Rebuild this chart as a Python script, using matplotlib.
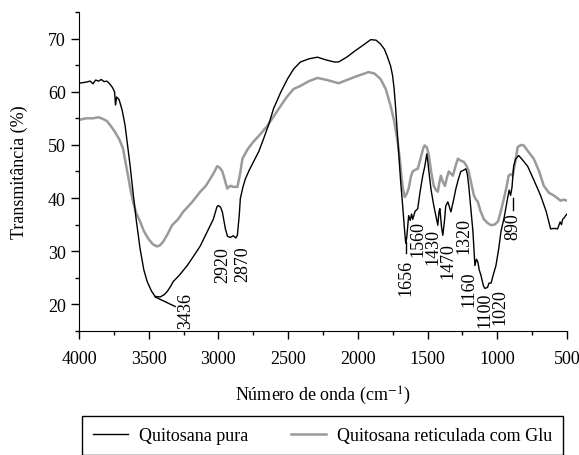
import matplotlib
matplotlib.use("Agg")
import matplotlib.pyplot as plt
from matplotlib.ticker import MultipleLocator

plt.rcParams['font.family'] = ['Liberation Serif', 'DejaVu Serif']
plt.rcParams['mathtext.fontset'] = 'stix'

# Quitosana pura (wavenumber cm-1, transmittance %)
pura_wn = [4000, 3950, 3920, 3900, 3880, 3860, 3840, 3820, 3800, 3780, 3760, 3745,
           3738, 3730, 3712, 3690, 3669, 3650, 3633, 3612, 3590, 3562, 3535, 3511,
           3480, 3454, 3418, 3390, 3368, 3345, 3324, 3280, 3224, 3180, 3130, 3080,
           3037, 3010, 3001, 2985, 2972, 2950, 2935, 2915, 2893, 2875, 2864, 2850,
           2843, 2825, 2807, 2780, 2749, 2710, 2677, 2640, 2605, 2555, 2505, 2460,
           2412, 2350, 2290, 2230, 2170, 2138, 2080, 2020, 1960, 1908, 1870, 1838,
           1810, 1787, 1765, 1751, 1740, 1729, 1718, 1707, 1693, 1679, 1667, 1657,
           1650, 1636, 1625, 1615, 1607, 1590, 1571, 1555, 1535, 1520, 1506, 1500,
           1491, 1475, 1456, 1440, 1427, 1418, 1412, 1400, 1391, 1380, 1370, 1355,
           1340, 1333, 1315, 1297, 1280, 1262, 1245, 1226, 1215, 1205, 1190, 1175,
           1161, 1150, 1140, 1130, 1118, 1100, 1089, 1070, 1060, 1045, 1030, 1010,
           990, 974, 950, 927, 915, 905, 895, 883, 870, 847, 820, 783, 740, 690,
           650, 618, 590, 568, 550, 540, 532, 520, 511, 500]
pura_t = [61.6, 61.8, 62.0, 61.5, 62.2, 62.0, 62.3, 61.9, 62.0, 61.5, 60.8, 60.0,
          57.5, 59.0, 58.5, 56.5, 53.6, 49.5, 46.0, 41.0, 36.0, 30.5, 26.5, 24.3,
          22.5, 21.5, 21.4, 21.8, 22.4, 23.3, 24.3, 25.5, 27.3, 29.0, 31.0, 33.7,
          36.0, 38.4, 38.6, 38.3, 37.4, 34.2, 32.8, 32.6, 32.9, 32.5, 33.0, 37.0,
          39.9, 42.0, 43.6, 45.2, 46.8, 48.8, 51.1, 53.8, 56.8, 59.8, 62.4, 64.3,
          65.6, 66.2, 66.5, 66.0, 65.6, 65.6, 66.5, 67.7, 68.8, 69.8, 69.7, 69.0,
          68.0, 66.5, 64.8, 63.0, 60.5, 56.8, 52.5, 48.0, 43.0, 38.6, 34.5, 31.5,
          32.5, 36.7, 35.8, 37.0, 36.0, 37.5, 38.0, 41.0, 44.2, 46.0, 48.3, 47.2,
          45.0, 41.5, 38.6, 36.5, 34.9, 37.5, 38.0, 34.5, 33.0, 35.5, 38.5, 39.3,
          38.0, 37.4, 39.5, 41.8, 43.5, 45.0, 45.2, 45.5, 44.5, 42.3, 38.0, 33.7,
          27.3, 28.5, 28.0, 26.5, 25.5, 23.5, 23.0, 23.2, 24.0, 24.0, 25.5, 27.3,
          30.5, 33.7, 36.5, 39.9, 41.5, 40.5, 42.0, 46.0, 47.3, 48.0, 47.2, 46.0,
          43.5, 40.5, 37.5, 34.2, 34.3, 34.2, 35.5, 35.0, 36.0, 36.3, 36.7, 37.0]

# Quitosana reticulada com Glu
glu_wn = [4000, 3950, 3900, 3860, 3830, 3800, 3770, 3741, 3710, 3684, 3665, 3648,
          3630, 3612, 3590, 3562, 3535, 3504, 3470, 3440, 3420, 3396, 3365, 3332,
          3290, 3253, 3190, 3130, 3090, 3059, 3030, 3009, 2990, 2972, 2955, 2937,
          2915, 2893, 2864, 2845, 2828, 2790, 2749, 2700, 2649, 2600, 2555, 2510,
          2462, 2412, 2350, 2290, 2220, 2138, 2080, 2000, 1922, 1880, 1838, 1800,
          1765, 1740, 1715, 1700, 1686, 1675, 1664, 1650, 1636, 1620, 1607, 1590,
          1571, 1550, 1530, 1521, 1505, 1491, 1475, 1456, 1440, 1427, 1415, 1405,
          1390, 1376, 1360, 1348, 1330, 1319, 1300, 1283, 1260, 1240, 1220, 1205,
          1185, 1168, 1155, 1140, 1120, 1096, 1070, 1045, 1020, 995, 975, 953,
          935, 919, 905, 890, 870, 854, 830, 811, 780, 739, 700, 667, 630, 596,
          570, 546, 525, 500]
glu_t = [54.7, 55.0, 55.0, 55.2, 54.9, 54.5, 53.5, 52.4, 51.0, 49.3, 46.5, 44.2,
         41.5, 39.3, 37.2, 35.6, 33.8, 32.4, 31.3, 30.9, 31.1, 31.8, 33.2, 34.9,
         36.0, 37.4, 39.2, 41.2, 42.3, 43.6, 44.9, 46.0, 45.7, 45.0, 43.5, 41.8,
         42.3, 42.1, 42.1, 44.5, 47.4, 49.2, 50.6, 52.0, 53.6, 55.5, 57.3, 59.0,
         60.5, 61.1, 62.0, 62.6, 62.2, 61.6, 62.2, 63.0, 63.7, 63.4, 62.4, 60.5,
         57.3, 54.5, 50.6, 47.5, 43.6, 41.5, 40.2, 40.8, 41.8, 44.0, 45.0, 45.3,
         45.5, 47.5, 49.5, 49.9, 49.5, 48.0, 45.0, 42.3, 41.5, 41.2, 43.0, 44.2,
         43.0, 42.3, 44.0, 45.0, 44.5, 44.2, 46.0, 47.4, 47.0, 46.8, 46.0, 45.0,
         42.5, 40.5, 39.8, 39.3, 37.5, 36.0, 35.3, 34.9, 35.0, 35.6, 37.5, 39.9,
         42.0, 44.2, 44.5, 44.2, 47.0, 49.6, 50.0, 49.9, 48.8, 47.4, 45.0, 42.3,
         41.0, 40.5, 40.0, 39.5, 39.7, 39.5]

# peak labels: text, x position, top of text
peak_labels = ['3436', '2920', '2870', '1656', '1560', '1430', '1470', '1320',
               '1160', '1100', '1020', '890']
peak_x = [3238, 2972, 2829, 1657, 1571, 1463, 1355, 1240, 1202, 1090, 980, 888]
peak_top = [22.4, 30.9, 31.1, 28.6, 35.8, 34.3, 31.8, 36.5, 26.4, 22.4, 23.0, 37.4]

fig = plt.figure(figsize=(5.79, 4.56), dpi=100)
ax = fig.add_axes([0.1364, 0.272, 0.843, 0.6995])

ax.plot(glu_wn, glu_t, color='#9a9a9a', lw=1.8, label='Quitosana reticulada com Glu', zorder=2)
ax.plot(pura_wn, pura_t, color='black', lw=1.0, label='Quitosana pura', zorder=3)

for lab, x, y in zip(peak_labels, peak_x, peak_top):
    ax.text(x, y, lab, rotation=90, ha='center', va='top', fontsize=13, zorder=4)

# leader lines
ax.plot([3454, 3310], [21.4, 19.6], color='black', lw=1.0)
ax.plot([1657, 1657], [31.8, 29.6], color='black', lw=1.0)
ax.plot([890, 890], [40.0, 37.8], color='black', lw=1.0)

ax.set_xlim(4000, 500)
ax.set_ylim(15, 75)
ax.xaxis.set_major_locator(MultipleLocator(500))
ax.xaxis.set_minor_locator(MultipleLocator(250))
ax.yaxis.set_minor_locator(MultipleLocator(5))
ax.set_yticks([20, 30, 40, 50, 60, 70])
ax.tick_params(which='major', direction='out', length=6, width=1, labelsize=13)
ax.tick_params(which='minor', direction='out', length=3, width=1)
ax.tick_params(axis='x', pad=8)
ax.spines['top'].set_visible(False)
ax.spines['right'].set_visible(False)

ax.set_xlabel('Número de onda (cm$^{-1}$)', fontsize=13, labelpad=12)
ax.set_ylabel('Transmitância (%)', fontsize=13, labelpad=14)

handles, labels = ax.get_legend_handles_labels()
leg = fig.legend(handles[::-1], labels[::-1], loc='upper left', ncol=2,
                 bbox_to_anchor=(0.1416, 0.0855, 0.8304, 0.0), mode='expand',
                 borderaxespad=0, fontsize=13, frameon=True, fancybox=False,
                 edgecolor='black', framealpha=1, handlelength=1.95,
                 handletextpad=0.6, borderpad=0.6)
leg.get_frame().set_linewidth(1.0)

fig.savefig('out.png', dpi=100)
